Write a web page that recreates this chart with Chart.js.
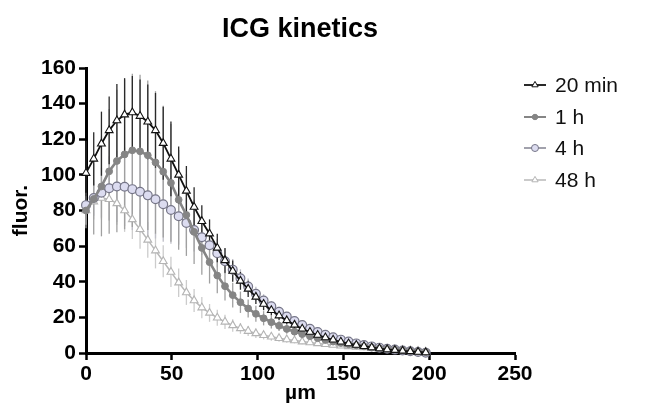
<!DOCTYPE html>
<html>
<head>
<meta charset="utf-8">
<script src="https://cdn.jsdelivr.net/npm/chart.js@4.4.1/dist/chart.umd.min.js"></script>
<style>
  html, body { margin: 0; padding: 0; background: #fff; }
  #wrap { width: 648px; height: 415px; }
</style>
</head>
<body>
<div id="wrap"><canvas id="c" width="648" height="415"></canvas></div>
<script>
// ---- data ----
const chartTitle = 'ICG kinetics';
const xTitle = 'µm';
const yTitle = 'fluor.';
const seriesLabels = ['20 min', '1 h', '4 h', '48 h'];

const distance = [0, 4.5, 9, 13.5, 18, 22.5, 27, 31.5, 36, 40.5, 45, 49.5, 54, 58.5, 63, 67.5, 72, 76.5, 81, 85.5,
  90, 94.5, 99, 103.5, 108, 112.5, 117, 121.5, 126, 130.5, 135, 139.5, 144, 148.5, 153, 157.5, 162, 166.5,
  171, 175.5, 180, 184.5, 189, 193.5, 198];

const min20 = [101, 109, 117.5, 125, 130.5, 133.8, 135, 133, 129.8, 125, 117.8, 109, 100, 91, 82, 74, 67, 59, 52, 46,
  40.5, 36, 31.5, 27.5, 24, 21, 18.3, 15.8, 13.6, 11.8, 10.1, 8.7, 7.4, 6.3, 5.3, 4.5, 3.8, 3.1, 2.5, 2, 1.6, 1.2, 0.9, 0.6, 0.3];
const min20Err = [18, 15, 18, 19, 20.5, 20.5, 20.5, 20.5, 21, 21, 20.5, 21, 16, 14, 11, 9, 8, 8, 7, 6,
  5, 4.5, 4, 3.5, 3, 2.5, 2.2, 2, 1.8, 1.5, 1.3, 1.2, 1.1, 1, 0.9, 0.8, 0.7, 0.6, 0.6, 0.5, 0.5, 0.4, 0.4, 0.3, 0.3];

const h1 = [80, 86.5, 93.5, 102, 107.8, 111.5, 113.8, 113.2, 111, 107, 101.8, 95.5, 86, 77.5, 68, 59, 51, 43.5, 37.5, 32.5,
  28.5, 25, 22, 19.5, 17.3, 15.3, 13.5, 12, 10.6, 9.4, 8.3, 7.3, 6.4, 5.6, 4.9, 4.3, 3.7, 3.2, 2.7, 2.3, 1.9, 1.5, 1.1, 0.8, 0.5];
const h1Err = [10, 20, 28, 35, 40, 42, 43, 43, 42, 40, 37, 33, 28, 23, 18, 15, 12, 10, 8, 7,
  6, 5, 4.5, 4, 3.5, 3, 2.7, 2.4, 2.1, 1.9, 1.7, 1.5, 1.3, 1.2, 1.1, 1, 0.9, 0.8, 0.7, 0.6, 0.5, 0.5, 0.4, 0.3, 0.3];

const h4 = [83, 87, 90, 92.5, 93.5, 93.3, 92, 90.5, 88.5, 86.3, 83.5, 80.3, 76.8, 73, 69, 65, 60.5, 56, 51.5, 46.8,
  42, 37.3, 33.2, 29.5, 26.2, 23.2, 20.5, 18, 15.7, 13.6, 11.8, 10.2, 8.8, 7.5, 6.4, 5.4, 4.5, 3.7, 3, 2.4, 1.9, 1.4, 1, 0.6, 0.2];
const h4Err = [5, 10, 14, 18, 20, 22, 23, 23, 23, 22, 21, 19, 16, 14, 12, 10, 9, 8, 7, 6,
  5, 4.5, 4, 3.5, 3, 2.7, 2.4, 2.1, 1.9, 1.7, 1.5, 1.3, 1.2, 1.1, 1, 0.9, 0.8, 0.7, 0.6, 0.5, 0.5, 0.4, 0.4, 0.3, 0.3];

const h48 = [80, 85, 87, 86.3, 84, 80, 75, 69.5, 63.5, 57.5, 51.5, 45.5, 39.5, 34, 29.5, 25.5, 22.5, 19.8, 17.5, 15.5,
  13.8, 12.3, 11, 10, 9.1, 8.3, 7.6, 7, 6.4, 5.9, 5.4, 4.9, 4.5, 4.1, 3.7, 3.4, 3.1, 2.8, 2.5, 2.2, 1.9, 1.6, 1.3, 1, 0.6];
const h48Err = [8, 10, 12, 12, 12, 12, 11, 11, 10, 10, 9, 8.5, 8, 7, 6.5, 6, 5, 4.5, 4, 3.5,
  3, 2.8, 2.6, 2.4, 2.2, 2, 1.8, 1.6, 1.5, 1.4, 1.3, 1.2, 1.1, 1, 0.9, 0.8, 0.7, 0.6, 0.6, 0.5, 0.5, 0.4, 0.4, 0.3, 0.3];

const xTicks = [0, 50, 100, 150, 200, 250];
const yTicks = [0, 20, 40, 60, 80, 100, 120, 140, 160];

// ---- build ----
const FONT = '"Liberation Sans", Arial, Helvetica, sans-serif';
function pts(vals) { return vals.map((v, i) => ({ x: distance[i], y: v })); }

const styles = [
  { line: '#111111', width: 1.8, style: 'triangle', r: 4.5, bg: '#ffffff', bd: '#111111', bw: 1.1, err: '#2a2a2a' },
  { line: '#858585', width: 2.6, style: 'circle', r: 3.4, bg: '#858585', bd: '#858585', bw: 1, err: '#a0a0a0' },
  { line: '#8a8a98', width: 1.6, style: 'circle', r: 4.4, bg: '#dcdcf0', bd: '#767688', bw: 1.2, err: '#bdbdc6' },
  { line: '#b8b8b8', width: 1.5, style: 'triangle', r: 4.5, bg: '#ffffff', bd: '#b4b4b4', bw: 1.1, err: '#cccccc' }
];
const values = [min20, h1, h4, h48];
const errors = [min20Err, h1Err, h4Err, h48Err];

const datasets = values.map((vals, k) => ({
  label: seriesLabels[k],
  data: pts(vals),
  errs: errors[k],
  borderColor: styles[k].line,
  borderWidth: styles[k].width,
  pointStyle: styles[k].style,
  pointRadius: styles[k].r,
  pointBackgroundColor: styles[k].bg,
  pointBorderColor: styles[k].bd,
  pointBorderWidth: styles[k].bw,
  tension: 0,
  fill: false,
  clip: false
}));

const errorBars = {
  id: 'errorBars',
  beforeDatasetsDraw(chart) {
    const ctx = chart.ctx;
    const xs = chart.scales.x, ys = chart.scales.y;
    ctx.save();
    for (let k = chart.data.datasets.length - 1; k >= 0; k--) {
      const ds = chart.data.datasets[k];
      ctx.strokeStyle = styles[k].err;
      ctx.lineWidth = 1.3;
      ds.data.forEach((p, i) => {
        const e = ds.errs[i];
        const px = xs.getPixelForValue(p.x);
        const y1 = ys.getPixelForValue(p.y + e);
        const y2 = ys.getPixelForValue(Math.max(0, p.y - e));
        ctx.beginPath();
        ctx.moveTo(px, y1);
        ctx.lineTo(px, y2);
        ctx.stroke();
      });
    }
    ctx.restore();
  }
};

const titleAndLegend = {
  id: 'titleAndLegend',
  afterDraw(chart) {
    const ctx = chart.ctx;
    ctx.save();
    // title
    ctx.fillStyle = '#000';
    ctx.font = 'bold 27px ' + FONT;
    ctx.textAlign = 'center';
    ctx.textBaseline = 'middle';
    ctx.fillText(chartTitle, 300, 30);
    // legend
    const rows = [85, 117, 148, 180];
    chart.data.datasets.forEach((ds, k) => {
      const y = rows[k];
      ctx.strokeStyle = styles[k].line;
      ctx.lineWidth = Math.min(styles[k].width, 2);
      ctx.beginPath();
      ctx.moveTo(524, y);
      ctx.lineTo(546, y);
      ctx.stroke();
      ctx.fillStyle = styles[k].bg;
      ctx.strokeStyle = styles[k].bd;
      ctx.lineWidth = 1;
      Chart.helpers.drawPoint(ctx, { pointStyle: styles[k].style, radius: styles[k].r * 0.8, rotation: 0, borderWidth: 1 }, 535, y);
      ctx.fillStyle = '#111';
      ctx.font = '21px ' + FONT;
      ctx.textBaseline = 'middle';
      ctx.textAlign = 'left';
      ctx.fillText(ds.label, 555, y + 1);
    });
    ctx.restore();
  }
};

new Chart(document.getElementById('c'), {
  type: 'line',
  data: { datasets },
  plugins: [errorBars, titleAndLegend],
  options: {
    responsive: false,
    animation: false,
    devicePixelRatio: 1,
    layout: { padding: { top: 68, right: 133, bottom: 0, left: 0 } },
    plugins: {
      legend: { display: false },
      tooltip: { enabled: false },
      title: { display: false }
    },
    scales: {
      x: {
        type: 'linear',
        min: 0, max: 250,
        afterFit(s) { s.height = 62; },
        afterBuildTicks(s) { s.ticks = xTicks.map(v => ({ value: v })); },
        border: { display: true, color: '#000', width: 3 },
        grid: { display: true, drawOnChartArea: false, drawTicks: true, tickLength: 7, tickWidth: 2.5, tickColor: '#000' },
        ticks: { color: '#000', padding: 2, maxRotation: 0, font: { family: FONT, size: 21, weight: 'bold' } },
        title: { display: true, text: xTitle, color: '#000', padding: { top: 0, bottom: 9 }, font: { family: FONT, size: 21, weight: 'bold' } }
      },
      y: {
        type: 'linear',
        min: 0, max: 160,
        afterFit(s) { s.width = 86; },
        afterBuildTicks(s) { s.ticks = yTicks.map(v => ({ value: v })); },
        border: { display: true, color: '#000', width: 3 },
        grid: { display: true, drawOnChartArea: false, drawTicks: true, tickLength: 7, tickWidth: 2.5, tickColor: '#000' },
        ticks: { color: '#000', padding: 3, font: { family: FONT, size: 21, weight: 'bold' } },
        title: { display: true, text: yTitle, color: '#000', padding: { top: 9, bottom: 0 }, font: { family: FONT, size: 21, weight: 'bold' } }
      }
    }
  }
});
</script>
</body>
</html>
